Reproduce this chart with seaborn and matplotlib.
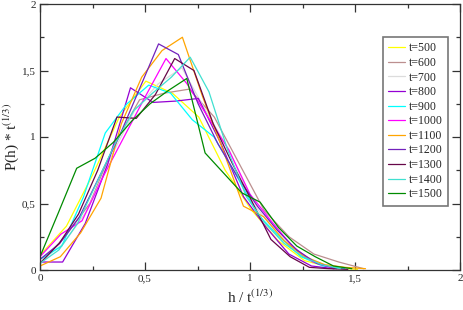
import numpy as np
import pandas as pd
import matplotlib
matplotlib.use("Agg")
import matplotlib.pyplot as plt
from matplotlib.ticker import MultipleLocator, FuncFormatter
import seaborn as sns

# times t and scaled distributions P(h)*t^(1/3), h = 0,1,2,...
times = [500, 600, 700, 800, 900, 1000, 1100, 1200, 1300, 1400, 1500]
labels = ["t=%d" % t for t in times]
colors = ["#ffff00", "#bc8f8f", "#dcdcdc", "#9400d3", "#00ffff", "#ff00ff",
          "#ffa500", "#7221bc", "#670748", "#40e0d0", "#008b00"]

p500 = [0.11, 0.33, 0.72, 1.15, 1.42, 1.33, 1.15, 0.75, 0.45, 0.22, 0.07, 0.02, 0.005]
p600 = [0.05, 0.25, 0.50, 0.95, 1.28, 1.33, 1.36, 1.15, 0.80, 0.45, 0.25, 0.12, 0.06, 0.01]
p700 = [0.06, 0.20, 0.45, 0.85, 1.20, 1.40, 1.52, 1.20, 0.90, 0.50, 0.28, 0.12, 0.04, 0.01]
p800 = [0.06, 0.06, 0.35, 0.80, 1.37, 1.26, 1.27, 1.29, 0.95, 0.55, 0.32, 0.12, 0.03, 0.01]
p900 = [0.08, 0.18, 0.55, 1.03, 1.25, 1.39, 1.33, 1.13, 1.00, 0.72, 0.42, 0.25, 0.10, 0.03, 0.01]
p1000 = [0.10, 0.27, 0.37, 0.70, 1.00, 1.30, 1.59, 1.40, 1.15, 0.90, 0.57, 0.37, 0.18, 0.06, 0.01]
p1100 = [0.03, 0.10, 0.28, 0.54, 1.10, 1.45, 1.65, 1.75, 1.30, 0.90, 0.48, 0.40, 0.22, 0.10, 0.04, 0.02, 0.01]
p1200 = [0.08, 0.20, 0.40, 0.70, 1.00, 1.35, 1.70, 1.62, 1.25, 0.95, 0.70, 0.48, 0.30, 0.15, 0.05, 0.01]
p1300 = [0.05, 0.20, 0.42, 0.75, 1.15, 1.14, 1.32, 1.59, 1.50, 1.10, 0.80, 0.52, 0.23, 0.10, 0.02, 0.01, 0.005]
p1400 = [0.05, 0.15, 0.35, 0.65, 0.95, 1.20, 1.33, 1.45, 1.60, 1.34, 0.90, 0.55, 0.35, 0.20, 0.10, 0.04, 0.01]
p1500 = [0.10, 0.43, 0.765, 0.84, 0.96, 1.12, 1.25, 1.35, 1.44, 0.88, 0.73, 0.58, 0.51, 0.32, 0.18, 0.10, 0.03, 0.01]
series = [p500, p600, p700, p800, p900, p1000, p1100, p1200, p1300, p1400, p1500]

rows = []
for t, lab, p in zip(times, labels, series):
    for h, v in enumerate(p):
        rows.append({"x": h / t ** (1.0 / 3.0), "y": v, "t": lab})
df = pd.DataFrame(rows)

sns.set_style("ticks")
plt.rcParams["font.family"] = ["Liberation Serif", "DejaVu Serif"]
plt.rcParams["mathtext.fontset"] = "stix"

fig = plt.figure(figsize=(4.63, 3.10), dpi=100)
ax = fig.add_axes([40 / 463, 40 / 310, 420 / 463, 266 / 310])

sns.lineplot(data=df, x="x", y="y", hue="t", hue_order=labels,
             palette=dict(zip(labels, colors)), sort=False, estimator=None,
             units="t", linewidth=0.9, ax=ax, legend=True)

ax.set_xlim(0, 2)
ax.set_ylim(0, 2)
ax.xaxis.set_major_locator(MultipleLocator(0.5))
ax.xaxis.set_minor_locator(MultipleLocator(0.25))
ax.yaxis.set_major_locator(MultipleLocator(0.5))
ax.yaxis.set_minor_locator(MultipleLocator(0.25))
fmt = FuncFormatter(lambda v, pos: ("%g" % v).replace(".", ","))
ax.xaxis.set_major_formatter(fmt)
ax.yaxis.set_major_formatter(fmt)
ax.tick_params(which="both", direction="in", top=True, right=True,
               labelsize=8, color="#333333", width=0.9)
ax.tick_params(which="major", length=6, pad=3)
ax.tick_params(which="minor", length=3)
for s in ax.spines.values():
    s.set_linewidth(0.9)
    s.set_color("#333333")

ax.set_xlabel("")
ax.set_ylabel("")
fig.text(250 / 463, (310 - 297) / 310, r"h / t$^{\rm (1/3)}$", fontsize=11,
         ha="center", va="center")
fig.text(11 / 463, 1 - 137 / 310, r"P(h) * t$^{\rm (1/3)}$", fontsize=11,
         ha="center", va="center", rotation=90)

leg = ax.legend(loc="upper left", bbox_to_anchor=(343 / 420, 1 - 33 / 266),
                fontsize=8.5, frameon=True, fancybox=False, handlelength=1.4,
                handletextpad=0.3, labelspacing=0.22, borderpad=0.45,
                borderaxespad=0)
leg.get_frame().set_edgecolor("#555555")
leg.get_frame().set_linewidth(1.2)
for line in leg.get_lines():
    line.set_linewidth(0.9)

fig.savefig("out.png", dpi=100)
